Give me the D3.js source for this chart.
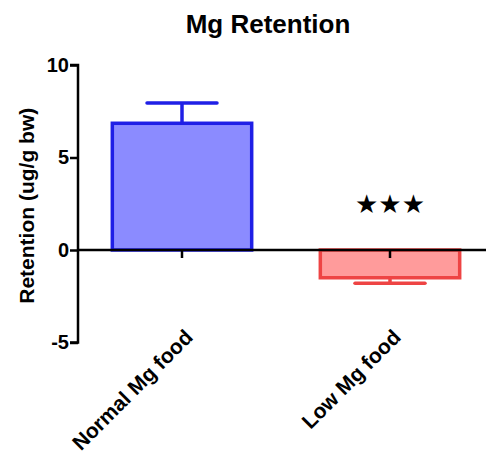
<!DOCTYPE html>
<html>
<head>
<meta charset="utf-8">
<script src="https://cdn.jsdelivr.net/npm/d3@7"></script>
<style>
  body { margin: 0; background: #fff; }
  text { font-family: "Liberation Sans", Arial, sans-serif; font-weight: bold; }
</style>
</head>
<body>
<svg id="chart" width="486" height="459"></svg>
<script>
// data
const groups = ["Normal Mg food", "Low Mg food"];
const means = [6.85, -1.5];
const errs = [1.1, 0.3];
const yTicks = [-5, 0, 5, 10];
const strokes = ["#1f1fe6", "#ee4444"];
const fills = ["#8b8bff", "#ff9b9b"];

const svg = d3.select('#chart');

const y = d3.scaleLinear().domain([-5, 10]).range([342.5, 65]);
const x = d3.scaleBand().domain(groups).range([78, 494]).paddingInner(0.33).paddingOuter(0.165);

// title
svg.append('text')
  .attr('x', 268).attr('y', 33)
  .attr('text-anchor', 'middle')
  .style('font-size', '26px')
  .text('Mg Retention');

// y axis label
svg.append('text')
  .attr('transform', 'translate(34,' + (y(2.5) + 2) + ') rotate(-90)')
  .attr('text-anchor', 'middle')
  .style('font-size', '21px')
  .text('Retention (ug/g bw)');

// bars
svg.append('g')
  .selectAll('rect.bar')
  .data(groups)
  .enter()
  .append('rect')
  .classed('bar', true)
  .attr('x', d => x(d))
  .attr('width', x.bandwidth())
  .attr('y', (d, i) => y(Math.max(0, means[i])))
  .attr('height', (d, i) => Math.abs(y(means[i]) - y(0)))
  .attr('fill', (d, i) => fills[i])
  .attr('stroke', (d, i) => strokes[i])
  .attr('stroke-width', 3.5);

// error bars (one-sided, away from zero)
const eb = svg.append('g');
groups.forEach((g, i) => {
  const cx = x(g) + x.bandwidth() / 2;
  const tip = means[i] + Math.sign(means[i]) * errs[i];
  eb.append('line')
    .attr('x1', cx).attr('x2', cx)
    .attr('y1', y(means[i])).attr('y2', y(tip))
    .attr('stroke', strokes[i]).attr('stroke-width', 3.5);
  eb.append('line')
    .attr('x1', cx - 35).attr('x2', cx + 35)
    .attr('y1', y(tip)).attr('y2', y(tip))
    .attr('stroke', strokes[i]).attr('stroke-width', 3.5)
    .attr('stroke-linecap', 'round');
});

// y axis
const yAxis = svg.append('g')
  .attr('transform', 'translate(78,0)')
  .call(d3.axisLeft(y).tickValues(yTicks).tickSize(8).tickPadding(1).tickFormat(d => String(d)));
yAxis.select('.domain').attr('stroke-width', 2.5).attr('d', 'M-8,' + y(10) + 'H0V' + y(-5) + 'H-8');
yAxis.selectAll('.tick line').attr('stroke-width', 2.5);
yAxis.selectAll('.tick text').style('font-size', '20px').style('font-weight', 'bold').attr('fill', '#000');

// zero line with category ticks
const xAxis = svg.append('g')
  .attr('transform', 'translate(0,' + y(0) + ')')
  .call(d3.axisBottom(x).tickSize(8).tickFormat(''));
xAxis.select('.domain').attr('stroke-width', 2.5).attr('d', 'M78,0H486');
xAxis.selectAll('.tick line').attr('stroke-width', 2.5);

// category labels
svg.append('g')
  .selectAll('text.cat')
  .data(groups)
  .enter()
  .append('text')
  .classed('cat', true)
  .attr('transform', d => 'translate(' + (x(d) + x.bandwidth() / 2 + 12) + ',' + (y(-5) - 4) + ') rotate(-45)')
  .attr('text-anchor', 'end')
  .style('font-size', '21px')
  .text(d => d);

// significance stars
svg.append('text')
  .attr('x', x('Low Mg food') + x.bandwidth() / 2)
  .attr('y', 213)
  .attr('text-anchor', 'middle')
  .style('font-size', '26px')
  .style('font-family', '"DejaVu Sans", sans-serif')
  .text('★★★');
</script>
</body>
</html>
